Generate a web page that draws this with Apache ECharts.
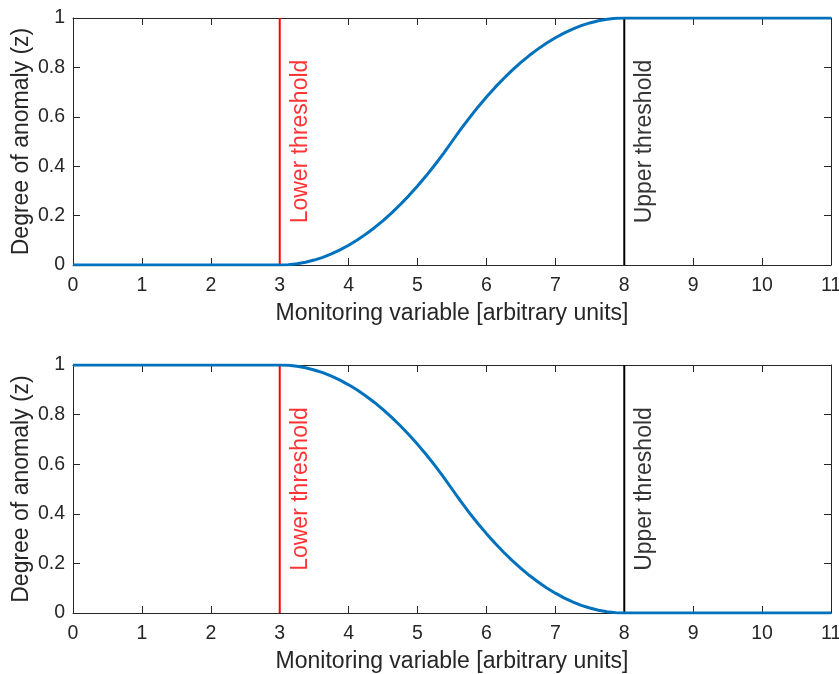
<!DOCTYPE html>
<html>
<head>
<meta charset="utf-8">
<script src="https://cdn.jsdelivr.net/npm/echarts@6/dist/echarts.min.js"></script>
<style>
html,body{margin:0;padding:0;background:#fff;}
#chart{width:839px;height:674px;}
</style>
</head>
<body>
<div id="chart"></div>
<script>
// Data
var xValues = [0, 1, 2, 3, 3.125, 3.25, 3.375, 3.5, 3.625, 3.75, 3.875, 4, 4.125, 4.25, 4.375, 4.5, 4.625, 4.75, 4.875, 5,
  5.125, 5.25, 5.375, 5.5, 5.625, 5.75, 5.875, 6, 6.125, 6.25, 6.375, 6.5, 6.625, 6.75, 6.875, 7,
  7.125, 7.25, 7.375, 7.5, 7.625, 7.75, 7.875, 8, 9, 10, 11];
var zRising = [0, 0, 0, 0, 0.001, 0.005, 0.011, 0.02, 0.031, 0.045, 0.061, 0.08, 0.101, 0.125, 0.151, 0.18, 0.211, 0.245, 0.281, 0.32,
  0.361, 0.405, 0.451, 0.5, 0.549, 0.595, 0.639, 0.68, 0.719, 0.755, 0.789, 0.82, 0.849, 0.875, 0.899, 0.92,
  0.939, 0.955, 0.969, 0.98, 0.989, 0.995, 0.999, 1, 1, 1, 1];
var zFalling = [1, 1, 1, 1, 0.999, 0.995, 0.989, 0.98, 0.969, 0.955, 0.939, 0.92, 0.899, 0.875, 0.849, 0.82, 0.789, 0.755, 0.719, 0.68,
  0.639, 0.595, 0.549, 0.5, 0.451, 0.405, 0.361, 0.32, 0.281, 0.245, 0.211, 0.18, 0.151, 0.125, 0.101, 0.08,
  0.061, 0.045, 0.031, 0.02, 0.011, 0.005, 0.001, 0, 0, 0, 0];
var lowerThreshold = 3;
var upperThreshold = 8;
var lowerLabel = 'Lower threshold';
var upperLabel = 'Upper threshold';
var xAxisTitle = 'Monitoring variable [arbitrary units]';
var yAxisTitle = 'Degree of anomaly (z)';
var xMin = 0, xMax = 11, xStep = 1;
var yMin = 0, yMax = 1, yStep = 0.2;

var chart = echarts.init(document.getElementById('chart'), null, {renderer: 'canvas'});
var FONT = 'Liberation Sans';
var TXT = '#262626';
var AX = '#262626';

function pairs(xs, ys) { return xs.map(function (x, i) { return [x, ys[i]]; }); }

function mkX(gi, pos, show) {
  return {
    type: 'value', gridIndex: gi, position: pos, min: xMin, max: xMax, interval: xStep,
    name: show ? xAxisTitle : '', nameLocation: 'middle', nameGap: 37,
    nameTextStyle: {fontFamily: FONT, fontSize: 23, color: TXT},
    axisLine: {show: true, onZero: false, lineStyle: {color: AX, width: 1}},
    axisTick: {show: true, inside: true, length: 7, lineStyle: {color: AX, width: 1}},
    axisLabel: {show: show, fontFamily: FONT, fontSize: 19.5, color: TXT, margin: 11},
    splitLine: {show: false}
  };
}
function mkY(gi, pos, show) {
  return {
    type: 'value', gridIndex: gi, position: pos, min: yMin, max: yMax, interval: yStep,
    name: show ? yAxisTitle : '', nameLocation: 'middle', nameGap: 40, nameMoveOverlap: false,
    nameTextStyle: {fontFamily: FONT, fontSize: 23, color: TXT},
    axisLine: {show: true, onZero: false, lineStyle: {color: AX, width: 1}},
    axisTick: {show: true, inside: true, length: 7, lineStyle: {color: AX, width: 1}},
    axisLabel: {show: show, fontFamily: FONT, fontSize: 19.5, color: TXT, margin: 8},
    splitLine: {show: false}
  };
}

function thresholdLine(xi, yi, x, color) {
  return {
    type: 'line', xAxisIndex: xi, yAxisIndex: yi, data: [[x, yMin], [x, yMax]],
    symbol: 'none', silent: true, z: 2,
    lineStyle: {color: color, width: 2}
  };
}
function thresholdText(xi, yi, x, text, color) {
  return {
    type: 'scatter', xAxisIndex: xi, yAxisIndex: yi, data: [[x + 0.3, 0.5]],
    symbolSize: 0, silent: true, z: 4,
    label: {show: true, position: 'inside', formatter: text, rotate: 90,
      fontFamily: FONT, fontSize: 23, color: color}
  };
}

var option = {
  animation: false,
  backgroundColor: '#ffffff',
  grid: [
    {left: 73, right: 8, top: 18, height: 247, containLabel: false, outerBoundsMode: 'none'},
    {left: 73, right: 8, top: 365, height: 248, containLabel: false, outerBoundsMode: 'none'}
  ],
  xAxis: [mkX(0, 'bottom', true), mkX(0, 'top', false), mkX(1, 'bottom', true), mkX(1, 'top', false)],
  yAxis: [mkY(0, 'left', true), mkY(0, 'right', false), mkY(1, 'left', true), mkY(1, 'right', false)],
  series: [
    thresholdLine(0, 0, lowerThreshold, '#FF0000'),
    thresholdLine(0, 0, upperThreshold, '#000000'),
    thresholdLine(2, 2, lowerThreshold, '#FF0000'),
    thresholdLine(2, 2, upperThreshold, '#000000'),
    {type: 'line', xAxisIndex: 0, yAxisIndex: 0, data: pairs(xValues, zRising), smooth: false,
      symbol: 'none', z: 3, lineStyle: {color: '#0072BD', width: 3, join: 'round'}},
    {type: 'line', xAxisIndex: 2, yAxisIndex: 2, data: pairs(xValues, zFalling), smooth: false,
      symbol: 'none', z: 3, lineStyle: {color: '#0072BD', width: 3, join: 'round'}},
    thresholdText(0, 0, lowerThreshold, lowerLabel, '#FF0000'),
    thresholdText(0, 0, upperThreshold, upperLabel, '#000000'),
    thresholdText(2, 2, lowerThreshold, lowerLabel, '#FF0000'),
    thresholdText(2, 2, upperThreshold, upperLabel, '#000000')
  ]
};
chart.setOption(option);
</script>
</body>
</html>
